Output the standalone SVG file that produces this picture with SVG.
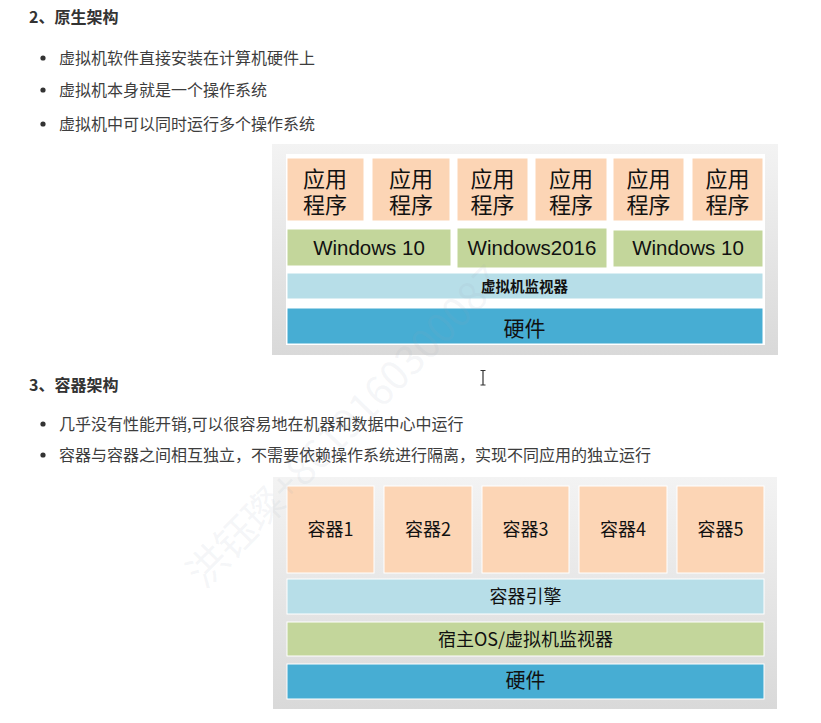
<svg xmlns="http://www.w3.org/2000/svg" width="821" height="723" viewBox="0 0 821 723">
<defs>
<linearGradient id="panel" x1="0" y1="0" x2="0" y2="1">
<stop offset="0" stop-color="#f3f3f3"/>
<stop offset="1" stop-color="#d9d9d9"/>
</linearGradient>
<style>
.t{font-family:"Noto Sans CJK SC","Microsoft YaHei",sans-serif;fill:#3d3d3d;font-size:16px}
.h{font-family:"Noto Sans CJK SC",sans-serif;fill:#333;font-size:16px;font-weight:bold}
.lbl{font-family:"Noto Sans CJK SC",sans-serif;fill:#111;text-anchor:middle}
.appt{font-family:"Liberation Sans","Noto Sans CJK SC",sans-serif;fill:#111;text-anchor:middle;font-size:22px}
.win{font-family:"Liberation Sans",Arial,sans-serif;fill:#111;font-size:20.5px;text-anchor:middle}
.app{fill:#fcd5b5;stroke:#fff;stroke-width:1}
.os{fill:#c3d69b;stroke:#fff;stroke-width:1}
.hv{fill:#b7dee8;stroke:#fff;stroke-width:1}
.hw{fill:#47add3;stroke:#fff;stroke-width:1}
.dot{fill:#333}
</style>
</defs>
<rect width="821" height="723" fill="#fff"/>

<g id="text-top">
<text class="h" x="29" y="23">2、原生架构</text>
<circle class="dot" cx="43" cy="58" r="2.6"/>
<text class="t" x="59" y="64">虚拟机软件直接安装在计算机硬件上</text>
<circle class="dot" cx="43" cy="90" r="2.6"/>
<text class="t" x="59" y="96">虚拟机本身就是一个操作系统</text>
<circle class="dot" cx="43" cy="124" r="2.6"/>
<text class="t" x="59" y="130">虚拟机中可以同时运行多个操作系统</text>
</g>

<g id="diagram-native">
<rect x="272" y="144" width="506" height="211" fill="url(#panel)"/>
<rect x="286" y="154" width="479" height="191" fill="#fff"/>
<g id="apps-native">
<rect class="app" x="287" y="158" width="77" height="63"/>
<rect class="app" x="372" y="158" width="78" height="63"/>
<rect class="app" x="457" y="158" width="71" height="63"/>
<rect class="app" x="535" y="158" width="72" height="63"/>
<rect class="app" x="613" y="158" width="71" height="63"/>
<rect class="app" x="692" y="158" width="71" height="63"/>
<text class="appt" y="187"><tspan x="325">应用</tspan><tspan x="325" dy="26">程序</tspan></text>
<text class="appt" y="187"><tspan x="411">应用</tspan><tspan x="411" dy="26">程序</tspan></text>
<text class="appt" y="187"><tspan x="492.5">应用</tspan><tspan x="492.5" dy="26">程序</tspan></text>
<text class="appt" y="187"><tspan x="571">应用</tspan><tspan x="571" dy="26">程序</tspan></text>
<text class="appt" y="187"><tspan x="648.5">应用</tspan><tspan x="648.5" dy="26">程序</tspan></text>
<text class="appt" y="187"><tspan x="727.5">应用</tspan><tspan x="727.5" dy="26">程序</tspan></text>
</g>
<g id="os-native">
<rect class="os" x="287" y="229" width="164" height="37"/>
<rect class="os" x="457" y="228" width="150" height="40"/>
<rect class="os" x="613" y="230" width="150" height="37"/>
<text class="win" x="369" y="255">Windows 10</text>
<text class="win" x="532" y="255">Windows2016</text>
<text class="win" x="688" y="255">Windows 10</text>
</g>
<g id="hypervisor-native">
<rect class="hv" x="287" y="273" width="476" height="26"/>
<text class="lbl" x="524.5" y="292" font-size="14.5" font-weight="bold">虚拟机监视器</text>
</g>
<g id="hardware-native">
<rect class="hw" x="287" y="308" width="476" height="36"/>
<text class="lbl" x="524.5" y="336" font-size="21">硬件</text>
</g>
</g>

<g id="text-bottom">
<text class="h" x="29" y="391">3、容器架构</text>
<circle class="dot" cx="43" cy="424" r="2.6"/>
<text class="t" x="59" y="430">几乎没有性能开销,可以很容易地在机器和数据中心中运行</text>
<circle class="dot" cx="43" cy="455" r="2.6"/>
<text class="t" x="59" y="461">容器与容器之间相互独立，不需要依赖操作系统进行隔离，实现不同应用的独立运行</text>
</g>

<path id="cursor" d="M480.5 370.5h5M483 370.5v14.5M480.5 385h5" stroke="#333" stroke-width="1.2" fill="none"/>

<g id="diagram-container">
<rect x="273" y="477" width="504" height="232" fill="url(#panel)"/>
<g id="containers">
<rect class="app" x="287" y="486" width="87" height="87"/>
<rect class="app" x="384" y="486" width="88" height="87"/>
<rect class="app" x="482" y="486" width="87" height="87"/>
<rect class="app" x="579" y="486" width="88" height="87"/>
<rect class="app" x="677" y="486" width="87" height="87"/>
<text class="lbl" x="330.5" y="536" font-size="18">容器1</text>
<text class="lbl" x="428" y="536" font-size="18">容器2</text>
<text class="lbl" x="525.5" y="536" font-size="18">容器3</text>
<text class="lbl" x="623" y="536" font-size="18">容器4</text>
<text class="lbl" x="720.5" y="536" font-size="18">容器5</text>
</g>
<g id="engine">
<rect class="hv" x="287" y="579" width="477" height="35"/>
<text class="lbl" x="525.5" y="603" font-size="18">容器引擎</text>
</g>
<g id="hostos">
<rect class="os" x="287" y="622" width="477" height="34"/>
<text class="lbl" x="525.5" y="646" font-size="18">宿主OS/虚拟机监视器</text>
</g>
<g id="hardware-container">
<rect class="hw" x="287" y="664" width="477" height="35"/>
<text class="lbl" x="525.5" y="688" font-size="20">硬件</text>
</g>
</g>

<text id="watermark" x="0" y="0" transform="translate(204,590) rotate(-45.5)" font-family="'Noto Sans CJK SC',sans-serif" font-size="40" fill="#9aa8b8" fill-opacity="0.1">洪钰璨+8619160300087</text>
</svg>
